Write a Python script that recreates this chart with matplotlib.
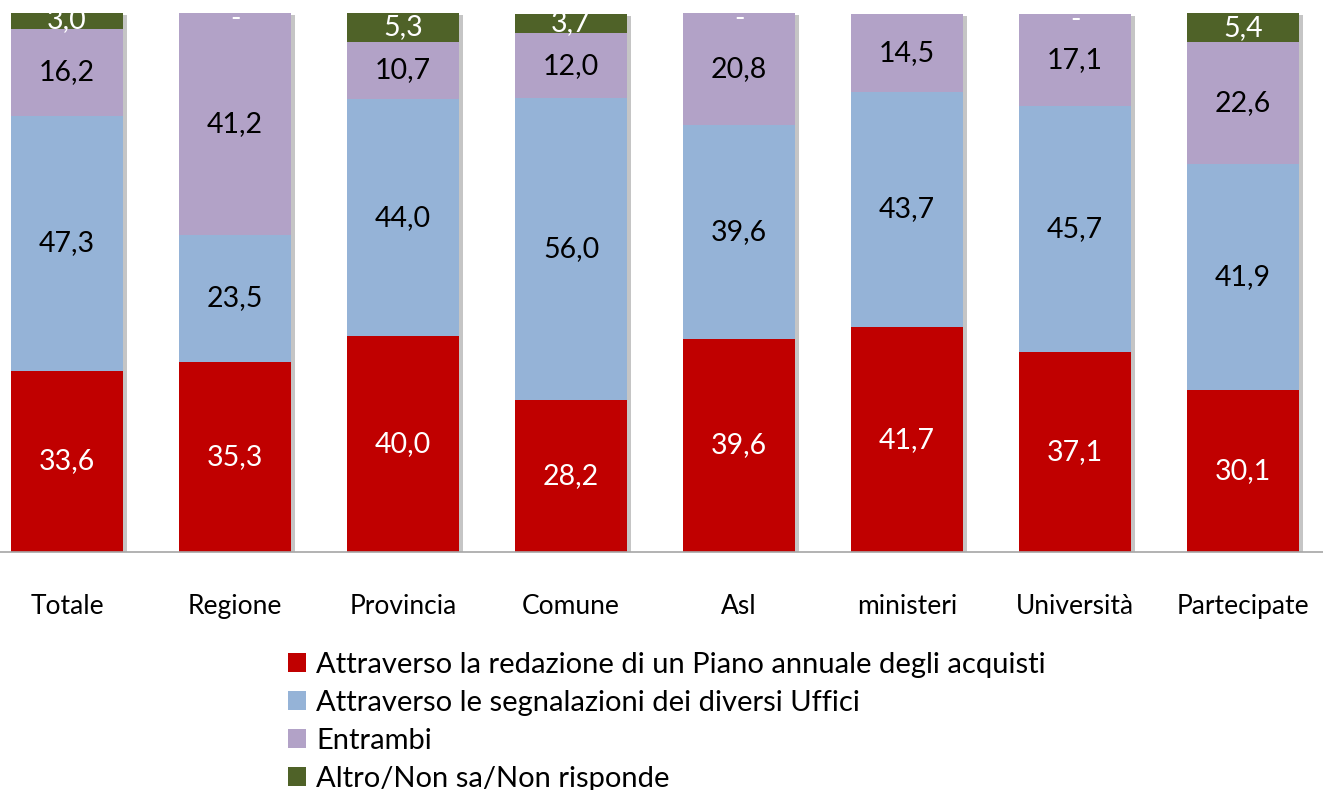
import matplotlib
matplotlib.use("Agg")
import matplotlib.pyplot as plt
import matplotlib.patheffects as pe
from matplotlib.patches import Patch
import numpy as np

categories = ["Totale", "Regione", "Provincia", "Comune", "Asl", "ministeri", "Università", "Partecipate"]
piano = [33.6, 35.3, 40.0, 28.2, 39.6, 41.7, 37.1, 30.1]
segnalazioni = [47.3, 23.5, 44.0, 56.0, 39.6, 43.7, 45.7, 41.9]
entrambi = [16.2, 41.2, 10.7, 12.0, 20.8, 14.5, 17.1, 22.6]
altro = [3.0, 0.0, 5.3, 3.7, 0.0, None, 0.0, 5.4]

series_names = [
    "Attraverso la redazione di un Piano annuale degli acquisti",
    "Attraverso le segnalazioni dei diversi Uffici",
    "Entrambi",
    "Altro/Non sa/Non risponde",
]
colors = ["#C00000", "#95B3D7", "#B2A2C7", "#4F6228"]
text_colors = ["white", "black", "black", "white"]

plt.rcParams['font.family'] = ['Lato', 'DejaVu Sans']

W, H = 1323, 790
fig = plt.figure(figsize=(W / 100, H / 100), dpi=100)
ax = fig.add_axes([0, (H - 552) / H, 1, (552 - 13) / H])

x = np.arange(len(categories))
width = 0.667
series = [piano, segnalazioni, entrambi, altro]

totals = [sum(v for v in vals if v is not None) for vals in zip(*series)]
ax.bar(x, totals, width, color="white", zorder=1,
       path_effects=[pe.SimplePatchShadow(offset=(2.5, -1.5), shadow_rgbFace="#808080", alpha=0.45),
                     pe.Normal()])

bottom = np.zeros(len(categories))
for vals, col, tc in zip(series, colors, text_colors):
    v = np.array([0.0 if a is None else a for a in vals])
    ax.bar(x, v, width, bottom=bottom, color=col, zorder=2)
    for i, a in enumerate(vals):
        if a is None:
            continue
        if a == 0:
            ax.text(x[i], bottom[i] - 1.2, "-", ha="center", va="center",
                    color=tc, fontsize=20.5, zorder=3)
            continue
        yc = bottom[i] + a / 2
        label = f"{a:.1f}".replace(".", ",")
        ax.text(x[i], yc, label, ha="center", va="center", color=tc,
                fontsize=20.5, zorder=3)
    bottom += v

ax.set_xlim(-67 / 168, (W - 67) / 168)
ax.set_ylim(0, 100)
ax.set_xticks(x)
ax.set_xticklabels(categories, fontsize=19)
ax.tick_params(axis="x", length=0, pad=30.5)
ax.set_yticks([])
for s in ["left", "top", "right"]:
    ax.spines[s].set_visible(False)
ax.spines["bottom"].set_color("#A6A6A6")
ax.spines["bottom"].set_linewidth(1.2)

handles = [Patch(facecolor=c, edgecolor="none") for c in colors]
fig.legend(handles, series_names, loc="upper left",
           bbox_to_anchor=(288 / W, 1 - 652 / H), frameon=False,
           fontsize=21, handlelength=0.62, handleheight=0.62,
           handletextpad=0.34, labelspacing=0.41, borderaxespad=0, borderpad=0)

fig.savefig("out.png", dpi=100)
